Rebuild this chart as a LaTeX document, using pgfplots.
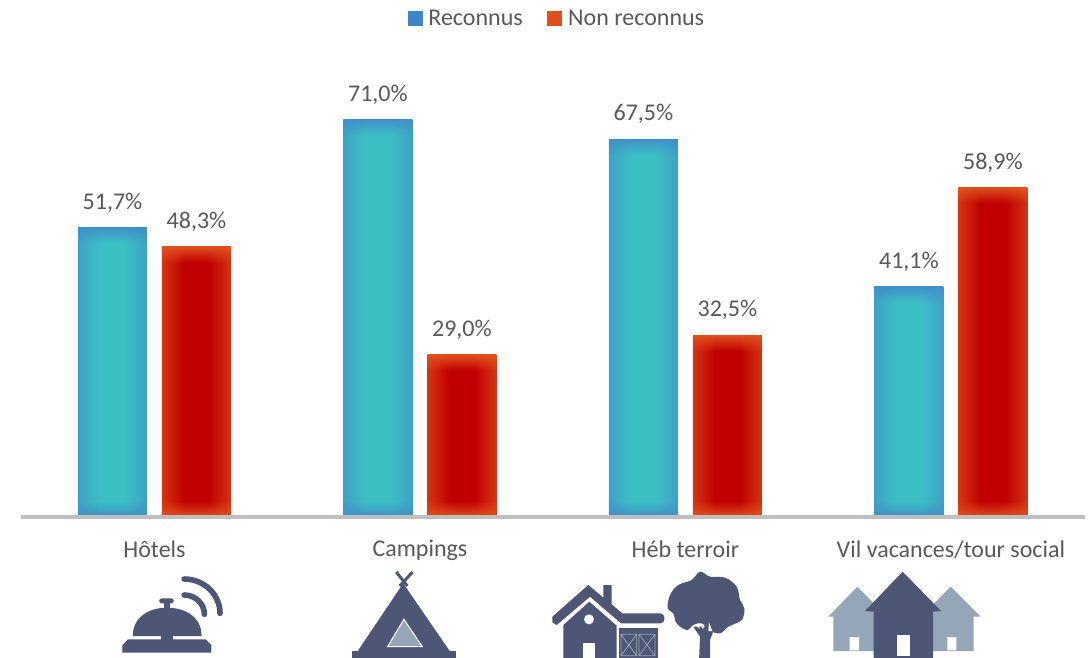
\documentclass[border=0pt]{standalone}
\usepackage{fontspec}
\setmainfont{Carlito}
\usepackage{pgfplots}
\pgfplotsset{compat=1.18}

\definecolor{txt}{HTML}{595959}
\definecolor{axgray}{HTML}{BFBFBF}
\definecolor{legblue}{HTML}{3D85C6}
\definecolor{legred}{HTML}{E0501C}
\definecolor{icon}{HTML}{4D5675}
\definecolor{iconlight}{HTML}{95A6B8}

% #1 name, #2 bar height in px; the edge band stays the same width on every bar
\newcommand\barshading[3]{%
  \pgfdeclarefunctionalshading{#1}{\pgfpointorigin}{\pgfpoint{100bp}{100bp}}{}{%
    50 sub abs 25 exch sub #2 50 div mul 16 div dup 1 gt {pop 1} if
    exch 50 sub abs 25 exch sub 1.38 mul 22 div dup 1 gt {pop 1} if
    0.65 mul 0.35 add
    mul
    #3
  }}
\newcommand\tealcode{dup -0.019 mul 0.25 add exch dup 0.184 mul 0.565 add exch -0.019 mul 0.784 add}
\newcommand\redcode{dup -0.125 mul 0.878 add exch dup -0.314 mul 0.314 add exch -0.11 mul 0.11 add}
\barshading{ta}{290}{\tealcode}
\barshading{tb}{398}{\tealcode}
\barshading{tc}{378}{\tealcode}
\barshading{td}{230}{\tealcode}
\barshading{ra}{270}{\redcode}
\barshading{rb}{162}{\redcode}
\barshading{rc}{182}{\redcode}
\barshading{rd}{330}{\redcode}

\pgfplotsset{
  vbar/.style={ybar, bar width=51.75pt, draw=none, shade, shading=#1,
    nodes near coords={\pgfmathprintnumber[fixed,fixed zerofill,precision=1,use comma,assume math mode=true]{\pgfplotspointmeta}\%},
    every node near coord/.append style={font=\fontsize{18pt}{21pt}\selectfont, text=txt, yshift=7.7pt, fill=none}},
  blue bar/.style={vbar=#1, bar shift=-31.5pt, every node near coord/.append style={xshift=-31.5pt}},
  red bar/.style={vbar=#1, bar shift=31.5pt, every node near coord/.append style={xshift=31.5pt}},
}
\newcommand\legsquare[1]{\pgfsetfillcolor{#1}\pgfpathrectangle{\pgfpoint{0pt}{-5.6pt}}{\pgfpoint{11.25pt}{11.25pt}}\pgfusepath{fill}}

\begin{document}
\begin{tikzpicture}
\path[use as bounding box] (0,0) rectangle (816.75pt,-492.75pt);

\begin{axis}[
    at={(15.75pt,-387.75pt)}, anchor=south west,
    scale only axis, width=798pt, height=336pt,
    xmin=-0.5028, xmax=3.505, ymin=0, ymax=80,
    axis x line*=bottom,
    axis y line=none,
    axis on top,
    x axis line style={draw=axgray, line width=3pt, -},
    xtick={0,1,2,3},
    xticklabels={Hôtels, Campings, Héb terroir, Vil vacances/tour social},
    major tick length=0pt,
    xticklabel style={font=\fontsize{18pt}{21pt}\selectfont, text=txt, yshift=-14pt},
    legend columns=2,
    legend style={at={(0.504,1.145)}, anchor=north, draw=none, fill=none,
      font=\fontsize{18pt}{21pt}\selectfont, text=txt,
      /tikz/every odd column/.append style={column sep=2.25pt},
      /tikz/every even column/.append style={column sep=16.5pt}},
  ]
  \addplot[blue bar=ta, legend image code/.code={\legsquare{legblue}}] coordinates {(0,51.7)};
  \addlegendentry{Reconnus}
  \addplot[blue bar=tb, forget plot] coordinates {(1,71.0)};
  \addplot[blue bar=tc, forget plot] coordinates {(2,67.5)};
  \addplot[blue bar=td, forget plot] coordinates {(3,41.1)};
  \addplot[red bar=ra, legend image code/.code={\legsquare{legred}}] coordinates {(0,48.3)};
  \addlegendentry{Non reconnus}
  \addplot[red bar=rb, forget plot] coordinates {(1,29.0)};
  \addplot[red bar=rc, forget plot] coordinates {(2,32.5)};
  \addplot[red bar=rd, forget plot] coordinates {(3,58.9)};
\end{axis}

% icons, in the coordinates of crops of the reference
\clip (0,0) rectangle (816.75pt,-492.75pt);

% bell and tent
\begin{scope}[shift={(0pt,-375pt)}, x=.2607pt, y=-.25pt]
  \fill[icon] (352,458) -- (352,436) -- (368,418) -- (592,418) -- (608,436) -- (608,458) -- cycle;
  \fill[icon] (382,408) .. controls (382,350) and (430,323) .. (481,323)
     .. controls (532,323) and (580,350) .. (580,408) -- cycle;
  \fill[icon] (462,405) rectangle (498,420);
  \fill[icon] (472,300) rectangle (490,326);
  \fill[icon, rounded corners=2pt] (458,295) rectangle (500,310);
  \draw[icon, line width=4.2pt, line cap=round] (530,237) arc[start angle=-90, end angle=0, radius=103];
  \draw[icon, line width=4.2pt, line cap=round] (530,285) arc[start angle=-90, end angle=0, radius=58];
  \fill[icon] (1160,250) -- (1028,455) -- (1295,455) -- cycle;
  \fill[icon] (1012,452) rectangle (1312,480);
  \draw[icon, line width=2.2pt] (1140,216) -- (1172,258) (1187,216) -- (1150,258);
  \draw[fill=iconlight, draw=white, line width=.8pt] (1162,358) -- (1115,440) -- (1215,440) -- cycle;
\end{scope}

% farm house and tree
\begin{scope}[shift={(408.75pt,-423.75pt)}, x=.25pt, y=-.25pt]
  \fill[icon] (22,155) -- (130,60) -- (175,98) -- (175,60) -- (200,60) -- (200,118) -- (232,145)
     -- (348,145) .. controls (362,147) and (362,173) .. (348,175) -- (228,175)
     -- (135,95) -- (35,180) -- (22,172) -- cycle;
  \fill[icon] (55,180) -- (133,110) -- (215,182) -- (215,290) -- (55,290) -- cycle;
  \fill[white] (115,235) rectangle (150,290);
  \fill[white] (132,163) circle[radius=15];
  \fill[icon] (222,188) rectangle (340,290);
  \draw[iconlight, line width=.6pt] (228,208) rectangle (275,272) (228,208) -- (275,272) (275,208) -- (228,272)
     (282,208) rectangle (330,272) (282,208) -- (330,272) (330,208) -- (282,272);
  \fill[icon] plot[smooth cycle, tension=.6] coordinates {(440,45) (465,20) (495,35) (540,38) (575,65)
     (585,105) (598,130) (590,165) (550,185) (525,205) (490,195) (470,175) (445,180) (425,195)
     (395,175) (385,145) (368,130) (375,90) (400,60)};
  \fill[icon] (462,290) -- (465,215) -- (445,185) -- (510,185) -- (495,225) -- (495,290) -- cycle;
  \fill[white] (450,178) -- (460,176) -- (464,192) -- cycle
     (468,180) -- (478,178) -- (474,194) -- cycle
     (492,172) -- (502,198) -- (490,198) -- cycle;
\end{scope}

% three houses
\begin{scope}[shift={(611.25pt,-423.75pt)}, x=.25pt, y=-.25pt]
  \fill[iconlight] (40,155) -- (127,65) -- (215,155) -- (197,155) -- (197,258) -- (55,258) -- (55,155) -- cycle;
  \fill[iconlight] (318,155) -- (407,65) -- (497,155) -- (476,155) -- (476,258) -- (335,258) -- (335,155) -- cycle;
  \fill[white] (104,216) rectangle (132,256) (397,216) rectangle (424,256);
  \fill[icon] (150,138) -- (263,20) -- (378,138) -- (354,140) -- (354,290) -- (176,290) -- (176,140) -- cycle;
  \fill[white] (245,210) rectangle (284,272);
\end{scope}
\end{tikzpicture}
\end{document}
